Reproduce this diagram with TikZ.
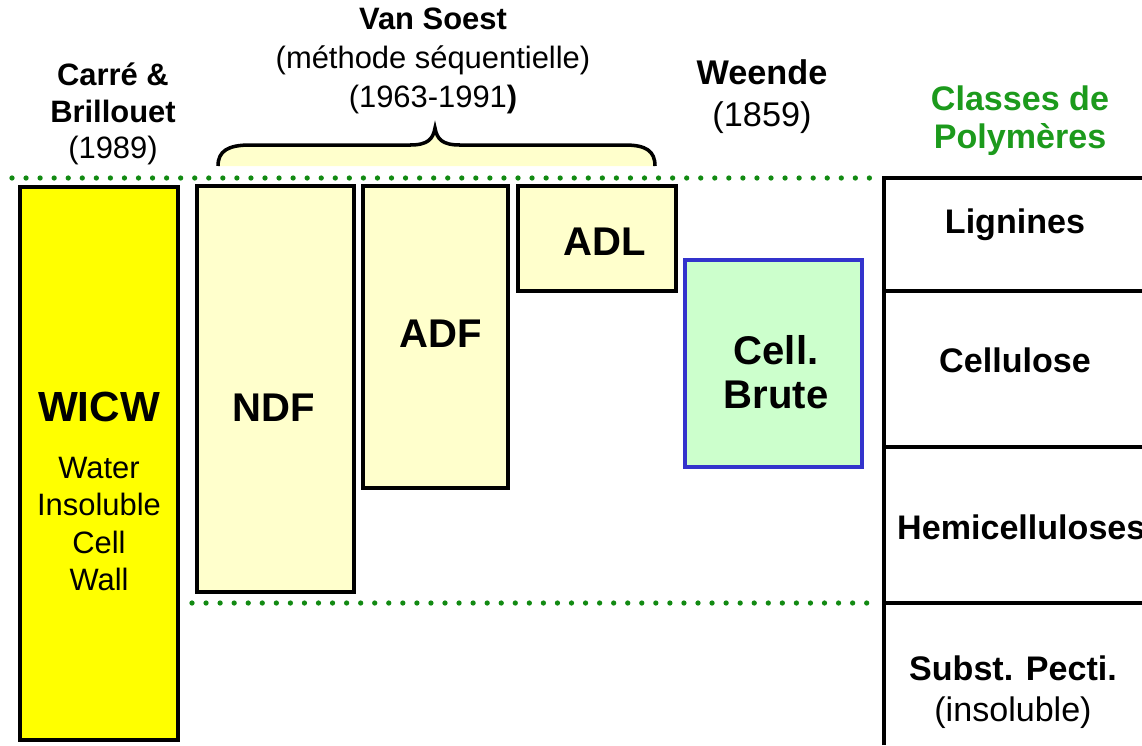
\documentclass[tikz,border=0pt]{standalone}
\usepackage{fontspec}
\setmainfont{Liberation Sans}
\usepackage{tikz}
\usetikzlibrary{positioning}
\usepackage{xcolor}
\definecolor{wicwyellow}{HTML}{FFFF00}
\definecolor{fibrefill}{HTML}{FFFFCC}
\definecolor{cbfill}{HTML}{CCFFCC}
\definecolor{cbblue}{HTML}{3333CC}
\definecolor{dotgreen}{HTML}{128A12}
\definecolor{titlegreen}{HTML}{1C9A1C}

\begin{document}
\begin{tikzpicture}[x=0.02cm,y=-0.02cm,
  frame/.style={draw=black,line width=2.2pt,inner sep=0pt},
  fibre/.style={frame,fill=fibrefill},
  dots/.style={dotgreen,line width=3pt,line cap=round,dash pattern=on 0pt off 8pt},
  head/.style={align=center,font=\fontsize{17.6}{20.6}\selectfont},
  boxlab/.style={font=\fontsize{22.8}{25}\selectfont\bfseries,align=center},
  cell/.style={font=\fontsize{19.4}{23}\selectfont,align=center}]
\useasboundingbox (0,0) rectangle (1142,745);
\clip (0,0) rectangle (1142,745);

% brace over the Van Soest fractions
\fill[fibrefill] (218,166) .. controls (218,151) and (228,145) .. (250,145) -- (410,145)
  .. controls (428,145) and (433,139) .. (435,128) .. controls (437,139) and (442,145) .. (460,145)
  -- (625,145) .. controls (646,145) and (655,151) .. (655,166) -- cycle;
\draw[line width=2pt] (218,166) .. controls (218,151) and (228,145) .. (250,145) -- (410,145)
  .. controls (428,145) and (433,139) .. (435,128) .. controls (437,139) and (442,145) .. (460,145)
  -- (625,145) .. controls (646,145) and (655,151) .. (655,166);

% green guide lines
\draw[dots] (12,178) -- (880,178);
\draw[dots] (192,603) -- (880,603);

% fractions
\node[frame,fill=wicwyellow,minimum width=3.16cm,minimum height=11.06cm] (wicw) at (99,463.5) {};
\node[fibre,minimum width=3.14cm,minimum height=8.12cm] (ndf) at (275.5,389) {};
\node[fibre,minimum width=2.9cm,minimum height=6.04cm] (adf) at (435.5,337) {};
\node[fibre,minimum width=3.16cm,minimum height=2.1cm] (adl) at (597,238.5) {};
\node[draw=cbblue,line width=2pt,fill=cbfill,minimum width=3.54cm,minimum height=4.14cm] (cb) at (773.5,363.5) {};

\node[boxlab,font=\fontsize{24}{26}\selectfont\bfseries] (wicw-t) at (99,407) {WICW};
\node[head,font=\fontsize{17.6}{21.3}\selectfont,below=13pt of wicw-t] (wicw-s) {Water\\Insoluble\\Cell\\Wall};
\node[boxlab] (ndf-t) at (274,408) {NDF};
\node[boxlab] (adf-t) at (441,334) {ADF};
\node[boxlab] (adl-t) at (605,242) {ADL};
\node[boxlab] (cb-t) at (776,372) {Cell.\\Brute};

% polymer classes
\draw[line width=1.8pt] (884,745) -- (884,178) -- (1150,178);
\draw[line width=1.8pt] (884,291) -- (1150,291);
\draw[line width=1.8pt] (884,447) -- (1150,447);
\draw[line width=1.8pt] (884,603) -- (1150,603);
\node[cell] (lig) at (1015,225) {\textbf{Lignines}};
\node[cell] (cel) at (1015,360) {\textbf{Cellulose}};
\node[cell,anchor=west] (hemi) at (891,527) {\textbf{Hemicelluloses}};
\node[cell] (pec) at (1013,692) {\textbf{Subst. Pecti.}\\(insoluble)};

% headings
\node[head] (cb89) at (113,114) {\textbf{Carré \&}\\\textbf{Brillouet}\\(1989)};
\node[head,font=\fontsize{17.6}{22}\selectfont] (vs) at (433,61) {\textbf{Van Soest}\\(méthode séquentielle)\\(1963-1991\textbf{)}};
\node[head,font=\fontsize{19.5}{24}\selectfont] (we) at (762,97) {\textbf{Weende}\\(1859)};
\node[head,font=\fontsize{19.4}{21.5}\selectfont\bfseries,text=titlegreen] (cls) at (1020,121) {Classes de\\Polymères};
\end{tikzpicture}
\end{document}
